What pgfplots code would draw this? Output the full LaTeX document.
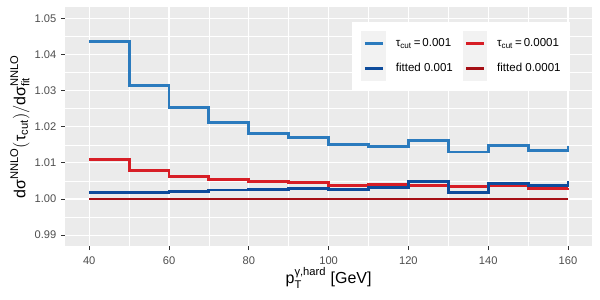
\documentclass[border=0pt]{standalone}
\usepackage{fontspec}
\setmainfont{Liberation Sans}
\usepackage{amsmath}
\usepackage{pgfplots}
\usepackage{pgfplotstable}
\pgfplotsset{compat=1.18}
\definecolor{bgGray}{HTML}{EBEBEB}
\definecolor{tickText}{HTML}{4D4D4D}
\definecolor{tickMark}{HTML}{333333}
\definecolor{keyGray}{HTML}{F2F2F2}
\definecolor{lblue}{RGB}{43,123,190}
\definecolor{dblue}{RGB}{14,76,156}
\definecolor{lred}{RGB}{215,30,38}
\definecolor{dred}{RGB}{165,15,21}
\pgfplotstableread{
x    tau001 tau0001 fit001 fit0001
40   1.0435 1.0109  1.0017 1.0000
50   1.0315 1.0078  1.0019 1.0000
60   1.0253 1.0063  1.0022 1.0000
70   1.0211 1.0055  1.0025 1.0000
80   1.0182 1.0049  1.0027 1.0000
90   1.0170 1.0045  1.0030 1.0000
100  1.0151 1.0038  1.0027 1.0000
110  1.0145 1.0041  1.0031 1.0000
120  1.0163 1.0037  1.0049 1.0000
130  1.0130 1.0034  1.0019 1.0000
140  1.0149 1.0037  1.0043 1.0000
150  1.0135 1.0030  1.0037 1.0000
160  1.0146 1.0031  1.0051 1.0000
}\datatable
\begin{document}
\begin{tikzpicture}
\begin{axis}[
  scale only axis, width=379.2pt, height=171.7pt,
  xmin=34, xmax=166, ymin=0.987, ymax=1.053,
  axis background/.style={fill=bgGray},
  axis line style={draw=none},
  xtick={40,60,80,100,120,140,160},
  minor xtick={50,70,90,110,130,150},
  ytick={0.99,1,1.01,1.02,1.03,1.04,1.05},
  minor ytick={0.995,1.005,1.015,1.025,1.035,1.045},
  grid=both,
  major grid style={white, line width=0.8pt},
  minor grid style={white, line width=0.4pt},
  tick align=outside, xtick pos=bottom, ytick pos=left,
  major tick length=3pt, minor tick length=0pt,
  tick style={tickMark, line width=0.6pt},
  tick label style={font=\fontsize{8}{9}\selectfont, text=tickText},
  /pgf/number format/assume math mode=true,
  yticklabel style={/pgf/number format/.cd, fixed, fixed zerofill, precision=2},
  xticklabel style={yshift=-1.5pt, /pgf/number format/.cd, fixed, precision=0},
  label style={font=\fontsize{11.5}{13}\selectfont},
  xlabel={$\text{p}^{\text{γ,hard}}_{\text{T}}$ [GeV]},
  ylabel={$\text{dσ}^{\text{NNLO}}(\text{τ}_{\text{cut}})/\text{dσ}^{\text{NNLO}}_{\text{fit}}$},
  xlabel style={at={(axis description cs:0.5,0)}, yshift=-23pt, anchor=center},
  ylabel style={at={(axis description cs:-0.086,0.5)}, anchor=center},
  legend columns=2,
  legend cell align=left,
  legend image code/.code={
    \fill[keyGray] (0pt,-7.9pt) rectangle (15.8pt,7.9pt);
    \draw[#1] (1.5pt,0pt) -- (14.3pt,0pt);
  },
  legend style={at={(axis description cs:0.5443,0.939)}, anchor=north west,
    draw=none, fill=white, inner xsep=6.5pt, inner ysep=6.5pt,
    column sep=7pt, row sep=0pt,
    font=\fontsize{8.3}{9}\selectfont,
    nodes={inner sep=0pt}},
]
\addplot[draw=lblue, line width=2.1pt, const plot mark left] table[x=x, y=tau001] {\datatable};
\addlegendentry{τ\textsubscript{cut}\,=\,0.001}
\addplot[draw=lred, line width=2.1pt, const plot mark left] table[x=x, y=tau0001] {\datatable};
\addlegendentry{τ\textsubscript{cut}\,=\,0.0001}
\addplot[draw=dblue, line width=2.1pt, const plot mark left] table[x=x, y=fit001] {\datatable};
\addlegendentry{fitted 0.001}
\addplot[draw=dred, line width=2.1pt, const plot mark left] table[x=x, y=fit0001] {\datatable};
\addlegendentry{fitted 0.0001}
\coordinate (O) at (rel axis cs:0,0);
\end{axis}
\pgfresetboundingbox
\path[use as bounding box] (O) ++(-47pt,-38.9pt) rectangle ++(432pt,216pt);
\end{tikzpicture}
\end{document}
